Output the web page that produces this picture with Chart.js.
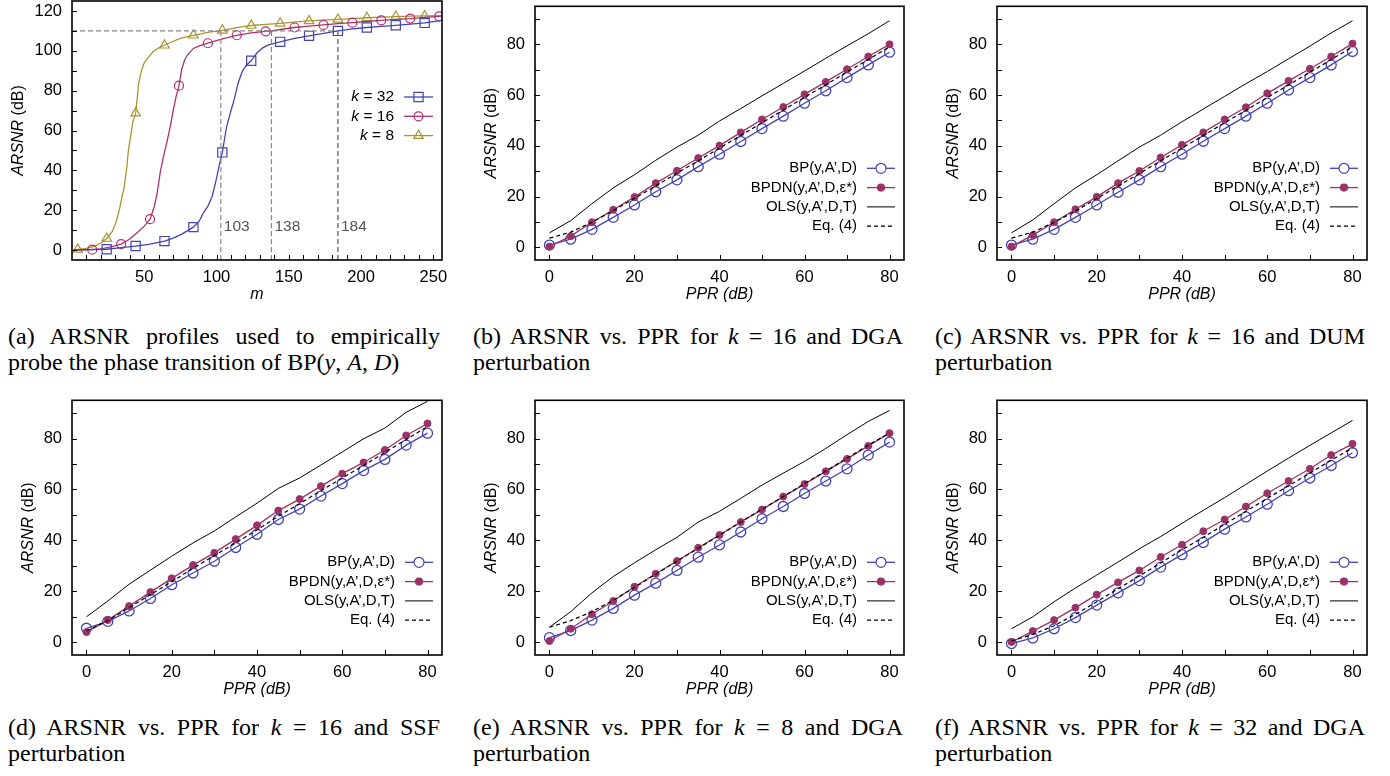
<!DOCTYPE html>
<html>
<head>
<meta charset="utf-8">
<script src="https://cdn.jsdelivr.net/npm/chart.js@4.4.0/dist/chart.umd.min.js"></script>
<style>
  body { margin: 0; background: #fff; width: 1390px; height: 776px; position: relative; overflow: hidden; }
  canvas { position: absolute; }
  .cap { position: absolute; font-family: "Liberation Serif", "Times New Roman", serif; font-size: 24px; line-height: 25.5px; color: #000; }
  .cap .j { text-align: justify; text-align-last: justify; }
</style>
</head>
<body>
<canvas id="pa" width="455" height="305" style="left:0;top:0"></canvas>
<canvas id="pb" width="460" height="305" style="left:460px;top:0"></canvas>
<canvas id="pc" width="470" height="305" style="left:920px;top:0"></canvas>
<canvas id="pd" width="455" height="305" style="left:0;top:394px"></canvas>
<canvas id="pe" width="460" height="305" style="left:460px;top:394px"></canvas>
<canvas id="pf" width="470" height="305" style="left:920px;top:394px"></canvas>

<div class="cap" style="left:8px;top:324px;width:432px">
  <div class="j">(a) ARSNR profiles used to empirically</div>
  <div>probe the phase transition of BP(<i>y</i>, <i>A</i>, <i>D</i>)</div>
</div>
<div class="cap" style="left:473px;top:324px;width:430px">
  <div class="j">(b) ARSNR vs. PPR for <i>k</i> = 16 and DGA</div>
  <div>perturbation</div>
</div>
<div class="cap" style="left:935px;top:324px;width:430px">
  <div class="j">(c) ARSNR vs. PPR for <i>k</i> = 16 and DUM</div>
  <div>perturbation</div>
</div>
<div class="cap" style="left:8px;top:715px;width:432px">
  <div class="j">(d) ARSNR vs. PPR for <i>k</i> = 16 and SSF</div>
  <div>perturbation</div>
</div>
<div class="cap" style="left:473px;top:715px;width:430px">
  <div class="j">(e) ARSNR vs. PPR for <i>k</i> = 8 and DGA</div>
  <div>perturbation</div>
</div>
<div class="cap" style="left:935px;top:715px;width:430px">
  <div class="j">(f) ARSNR vs. PPR for <i>k</i> = 32 and DGA</div>
  <div>perturbation</div>
</div>

<script>
// ---- panel (a): ARSNR vs m ----
const m8  = [1,4,10,16,20,24,28,31,33,35,36,38,39,41,42,44,45,46,48,50,52,56,60,64,70,76,84,94,104,114,124,134,144,154,164,174,184,194,204,214,224,234,244,256];
const k8  = [0.2,0.3,0.8,2,3.5,5.8,9.5,15,21,28,31,42,50,59,64,68.7,75,83,90,94,96,99.5,101.5,102.8,104.8,106.5,107.8,109.3,110.3,111.6,112.7,113.3,113.8,114.4,115,115.4,115.8,116.2,116.6,116.9,117.2,117.4,117.5,117.7];
const m16 = [1,8,14,20,26,30,34,40,45,50,54,57,59,61,63,66,68,70,72,74,76,78,80,84,88,94,104,114,124,134,138,144,154,164,174,184,194,204,214,224,234,244,254,256];
const k16 = [0,0.1,0.2,0.6,1.5,2.2,3,5.5,8.7,12,15.5,22,29,38.7,46,55.3,62,70,77,82.5,91,95.5,98,101.2,102.5,103.8,106,107.8,109,109.8,110,110.7,111.7,112.4,113,113.6,114.1,114.7,115.3,115.8,116.2,116.8,117.3,117.4];
const m32 = [1,10,24,34,44,54,64,70,76,84,88,91,94,97,100,102,104,107,110,112,115,118,121,124,128,132,136,144,154,164,174,184,194,204,214,224,234,244,256];
const k32 = [0,0.2,0.4,1.2,2,3,4.5,6,8,11.5,14.5,18.7,22,27,36,43,49,62,70,75,84,90,93,95,99,101.5,103,104.5,106.2,107.5,108.8,110,111,111.7,112.3,112.8,113.4,114,115.3];
const mk8  = [4,24,44,64,84,104,124,144,164,184,204,224,244];
const mk16 = [14,34,54,74,94,114,134,154,174,194,214,234,254];
const mk32 = [24,44,64,84,104,124,144,164,184,204,224,244];
const thrM = [103, 138, 184];
const thrV = 110;
const mTicks = [50, 100, 150, 200, 250];
const aTicks = [0, 20, 40, 60, 80, 100, 120];

// ---- panels (b)-(f): ARSNR vs PPR ----
const ppr = [0,5,10,15,20,25,30,35,40,45,50,55,60,65,70,75,80];
const pprTicks = [0, 20, 40, 60, 80];
const snrTicks = [0, 20, 40, 60, 80];

const bBP   = [0.9,3.2,7.1,11.8,16.7,21.9,26.6,31.8,36.7,41.7,46.8,51.7,56.8,61.7,66.9,71.9,76.9];
const bBPDN = [0.3,4.4,9.9,14.8,19.8,25.3,30.2,35.2,40.1,45.3,50.4,55.3,60.3,65.2,70.2,75.2,80.0];
const bOLS  = [5.7,10.5,17.2,23.4,28.6,34.3,39.5,44.2,49.8,54.7,59.7,64.6,69.5,74.5,79.4,84.2,89.3];
const bEq4  = [3.6,6.0,9.9,14.4,19.3,24.2,29.2,34.1,39.1,44.1,49.1,54.1,59.1,64.1,69.1,74.0,79.0];

const cBP   = [0.9,3.2,7.1,11.8,16.7,21.7,26.6,31.8,36.7,41.8,46.8,51.7,56.8,62.0,66.9,71.9,77.2];
const cBPDN = [0.3,4.8,9.9,15.0,19.9,25.3,30.1,35.4,40.4,45.3,50.4,55.2,60.7,65.6,70.4,75.2,80.3];
const cOLS  = [5.7,10.8,17.2,23.4,28.6,34.1,39.5,44.2,49.5,54.5,59.5,64.5,69.3,74.3,79.3,84.5,89.3];
const cEq4  = [3.6,6.0,9.8,14.3,19.2,24.2,29.1,34.1,39.1,44.1,49.1,54.0,59.0,64.0,69.0,74.0,79.0];

const dBP   = [5.5,8.2,12.3,17.2,22.6,27.2,31.8,37.2,42.4,48.2,52.3,57.4,62.3,67.4,71.8,77.4,82.1];
const dBPDN = [4.0,8.7,14.2,19.7,25.1,30.3,35.1,40.5,45.9,51.7,56.2,61.3,66.2,70.6,75.5,81.2,85.9];
const dOLS  = [10.0,16.2,22.8,28.3,33.8,39.0,43.7,49.2,54.6,60.4,64.5,69.6,74.7,79.9,84.1,90.3,94.6];
const dEq4  = [4.4,8.5,13.6,18.7,23.8,29.0,34.1,39.0,44.1,49.5,54.4,59.5,64.5,69.4,74.5,79.6,84.7];

const eBP   = [1.8,4.6,8.7,13.3,18.5,23.2,28.2,33.4,38.2,43.3,48.5,53.3,58.4,63.3,68.1,73.5,78.6];
const eBPDN = [0.5,5.3,11.0,16.2,21.8,26.9,31.9,37.1,42.1,47.2,52.1,57.2,62.1,67.1,72.0,77.1,82.1];
const eOLS  = [5.9,12.0,19.4,25.8,31.2,36.3,41.2,47.2,51.4,56.5,61.7,66.4,71.0,76.1,81.5,86.7,91.0];
const eEq4  = [5.9,8.5,12.0,16.5,21.5,26.7,31.8,36.9,42.0,47.2,52.3,57.2,62.3,67.2,72.3,77.4,82.2];

const fBP   = [-0.5,1.7,5.3,9.7,14.6,19.4,24.2,29.5,34.4,39.2,44.4,49.2,54.2,59.5,64.5,69.4,74.4];
const fBPDN = [0.1,4.4,8.7,13.6,18.7,23.5,28.2,33.5,38.3,43.6,48.2,53.3,58.5,63.3,68.1,73.5,77.9];
const fOLS  = [5.3,10.0,15.9,21.3,26.4,31.5,36.7,41.5,46.7,51.8,56.8,62.0,67.2,72.3,77.3,82.2,87.1];
const fEq4  = [0.5,3.1,6.5,11.0,15.9,21.0,26.0,31.2,36.3,41.2,46.3,51.4,56.5,61.4,66.4,71.5,76.4];

const FONT = '"Liberation Sans", Arial, sans-serif';
const BLUE = '#4444b4', PURPLE = '#993366', MAGENTA = '#b0306e', OLIVE = '#a8962e';
const NONE = 'rgba(0,0,0,0)';

const pts = (xs, ys) => xs.map((x, i) => ({ x: x, y: ys[i] }));

// per panel extras: titles, legend, minor ticks
const panels = {};

function richWidth(ctx, parts, size) {
  let w = 0;
  parts.forEach(p => { ctx.font = (p.i ? 'italic ' : '') + size + 'px ' + FONT; w += ctx.measureText(p.t).width; });
  return w;
}
function drawRich(ctx, parts, x, y, size) {
  parts.forEach(p => {
    ctx.font = (p.i ? 'italic ' : '') + size + 'px ' + FONT;
    ctx.fillText(p.t, x, y);
    x += ctx.measureText(p.t).width;
  });
}

const deco = {
  id: 'deco',
  afterDatasetsDraw(chart) {
    const cfg = panels[chart.canvas.id];
    const ctx = chart.ctx, a = chart.chartArea;
    const xs = chart.scales.x, ys = chart.scales.y;
    ctx.save();
    ctx.strokeStyle = '#000';
    ctx.lineWidth = 1;
    ctx.beginPath();
    cfg.xMinor.forEach(v => {
      const px = Math.round(xs.getPixelForValue(v)) + 0.5;
      ctx.moveTo(px, a.bottom); ctx.lineTo(px, a.bottom - 5);
    });
    cfg.yMinor.forEach(v => {
      const py = Math.round(ys.getPixelForValue(v)) + 0.5;
      ctx.moveTo(a.left, py); ctx.lineTo(a.left + 5, py);
    });
    ctx.stroke();
    ctx.lineWidth = 1.6;
    ctx.strokeRect(a.left, a.top, a.right - a.left, a.bottom - a.top);

    ctx.fillStyle = '#000';
    ctx.textBaseline = 'middle';
    // x title
    const xw = richWidth(ctx, cfg.xTitle, 16);
    drawRich(ctx, cfg.xTitle, (a.left + a.right) / 2 - xw / 2, a.bottom + 35, 16);
    // y title
    ctx.save();
    ctx.translate(a.left + cfg.yTitleOff, (a.top + a.bottom) / 2);
    ctx.rotate(-Math.PI / 2);
    const yw = richWidth(ctx, cfg.yTitle, 16);
    drawRich(ctx, cfg.yTitle, -yw / 2, 0, 16);
    ctx.restore();

    // threshold labels (panel a)
    if (cfg.thrLabels) {
      ctx.fillStyle = '#555';
      ctx.font = '15.5px ' + FONT;
      ctx.textAlign = 'left';
      cfg.thrLabels.forEach(m => ctx.fillText(String(m), xs.getPixelForValue(m) + 3, ys.getPixelForValue(11.5)));
    }

    // legend (gnuplot style: text, then sample)
    cfg.legend.forEach((it, i) => {
      const y = a.top + cfg.legTop + i * 19.3;
      ctx.fillStyle = '#000';
      const w = richWidth(ctx, it.text, cfg.legSize);
      drawRich(ctx, it.text, a.right - cfg.legTextR - w, y, cfg.legSize);
      const x1 = a.right - cfg.legTextR + 10, x2 = a.right - 9;
      ctx.strokeStyle = it.color;
      ctx.lineWidth = it.width || 1.3;
      ctx.setLineDash(it.dash || []);
      ctx.beginPath(); ctx.moveTo(x1, y); ctx.lineTo(x2, y); ctx.stroke();
      ctx.setLineDash([]);
      if (it.style) {
        ctx.fillStyle = it.fill;
        ctx.lineWidth = 1.2;
        Chart.helpers.drawPoint(ctx, { pointStyle: it.style, radius: it.r, borderWidth: 1.2, rotation: 0 }, (x1 + x2) / 2, y);
      }
    });
    ctx.restore();
  }
};

function makeChart(id, datasets, o) {
  return new Chart(document.getElementById(id), {
    type: 'line',
    data: { datasets: datasets },
    options: {
      responsive: false,
      animation: false,
      events: [],
      devicePixelRatio: 1,
      layout: { padding: { left: 0, right: o.padR, top: 1, bottom: 0 } },
      plugins: { legend: { display: false }, tooltip: { enabled: false } },
      scales: {
        x: {
          type: 'linear', min: o.xMin, max: o.xMax,
          afterBuildTicks: s => { s.ticks = o.xTicks.map(v => ({ value: v })); },
          afterFit: s => { s.height = o.xH; s.paddingLeft = 0; s.paddingRight = 0; },
          grid: { display: false, drawTicks: false },
          border: { display: false },
          ticks: { color: '#000', padding: 8, maxRotation: 0, autoSkip: false, font: { family: FONT, size: 16.5 } }
        },
        y: {
          type: 'linear', min: o.yMin, max: o.yMax,
          afterBuildTicks: s => { s.ticks = o.yTicks.map(v => ({ value: v })); },
          afterFit: s => { s.width = o.yW; s.paddingTop = 0; s.paddingBottom = 0; },
          grid: { display: false, drawTicks: false },
          border: { display: false },
          ticks: { color: '#000', padding: 10, font: { family: FONT, size: 16.5 } }
        }
      }
    },
    plugins: [deco]
  });
}

const range = (a, b, s) => { const r = []; for (let v = a; v <= b; v += s) r.push(v); return r; };
const yTitle = [{ t: 'ARSNR', i: true }, { t: ' (dB)' }];

// ---- panel (a) ----
panels.pa = {
  xMinor: range(10, 250, 10), yMinor: range(0, 120, 10),
  xTitle: [{ t: 'm', i: true }], yTitle: yTitle, yTitleOff: -53,
  thrLabels: thrM,
  legTop: 96, legTextR: 48, legSize: 15.5,
  legend: [
    { text: [{ t: 'k', i: true }, { t: ' = 32' }], color: BLUE, style: 'rect', r: 6.5, fill: NONE },
    { text: [{ t: 'k', i: true }, { t: ' = 16' }], color: MAGENTA, style: 'circle', r: 4.5, fill: NONE },
    { text: [{ t: 'k', i: true }, { t: ' = 8' }], color: OLIVE, style: 'triangle', r: 5.5, fill: NONE }
  ]
};
const markR = (list, r) => c => (c.raw && list.includes(c.raw.x)) ? r : 0;
const curve = (data, color, style, list, r) => ({
  data: data, borderColor: color, borderWidth: 1.3, tension: 0,
  pointStyle: style, pointRadius: markR(list, r), pointBorderColor: color,
  pointBackgroundColor: NONE, pointBorderWidth: 1.2
});
const guide = (data, color) => ({
  data: data, borderColor: color, borderWidth: 1.2, borderDash: [5, 3], pointRadius: 0, tension: 0
});
makeChart('pa', [
  guide([{ x: 0, y: thrV }, { x: thrM[2], y: thrV }], '#888'),
  guide([{ x: thrM[0], y: thrV }, { x: thrM[0], y: -5 }], '#888'),
  guide([{ x: thrM[1], y: thrV }, { x: thrM[1], y: -5 }], '#888'),
  guide([{ x: thrM[2], y: thrV }, { x: thrM[2], y: -5 }], '#555'),
  curve(pts(m32, k32), BLUE, 'rect', mk32, 6.5),
  curve(pts(m16, k16), MAGENTA, 'circle', mk16, 4.5),
  curve(pts(m8, k8), OLIVE, 'triangle', mk8, 5.5)
], { padR: 13, xMin: 0, xMax: 256, yMin: -5, yMax: 125, xTicks: mTicks, yTicks: aTicks, xH: 45, yW: 72 });

// ---- panels (b)-(f) ----
const pprLegend = [
  { text: [{ t: 'BP(y,A’,D)' }], color: BLUE, style: 'circle', r: 5, fill: '#fff' },
  { text: [{ t: 'BPDN(y,A’,D,ε*)' }], color: PURPLE, style: 'circle', r: 3.5, fill: PURPLE },
  { text: [{ t: 'OLS(y,A’,D,T)' }], color: '#000', width: 1 },
  { text: [{ t: 'Eq. (4)' }], color: '#000', width: 1.2, dash: [4, 3] }
];
function pprPanel(id, bp, bpdn, ols, eq, o) {
  panels[id] = {
    xMinor: range(0, 80, 10), yMinor: range(0, 90, 10),
    xTitle: [{ t: 'PPR (dB)', i: true }], yTitle: yTitle, yTitleOff: -43,
    legTop: 162, legTextR: 47, legSize: 15, legend: pprLegend
  };
  makeChart(id, [
    { data: pts(ppr, eq), borderColor: '#000', borderWidth: 1.2, borderDash: [4, 3], pointRadius: 0, tension: 0, order: 0 },
    { data: pts(ppr, ols), borderColor: '#000', borderWidth: 1, pointRadius: 0, tension: 0, order: 1 },
    { data: pts(ppr, bpdn), borderColor: PURPLE, borderWidth: 1.3, pointStyle: 'circle', pointRadius: 3.5,
      pointBackgroundColor: PURPLE, pointBorderColor: PURPLE, pointBorderWidth: 1, tension: 0, order: 2 },
    { data: pts(ppr, bp), borderColor: BLUE, borderWidth: 1.3, pointStyle: 'circle', pointRadius: 5,
      pointBackgroundColor: NONE, pointBorderColor: BLUE, pointBorderWidth: 1.3, tension: 0, order: 3 }
  ], Object.assign({ xMin: -3.4, xMax: 83.4, yMin: -5, yMax: 95, xTicks: pprTicks, yTicks: snrTicks, yW: 75 }, o));
}
pprPanel('pb', bBP, bBPDN, bOLS, bEq4, { padR: 16, xH: 45 });
pprPanel('pc', cBP, cBPDN, cOLS, cEq4, { padR: 23, xH: 45, yW: 77 });
pprPanel('pd', dBP, dBPDN, dOLS, dEq4, { padR: 13, xH: 44, yW: 72 });
pprPanel('pe', eBP, eBPDN, eOLS, eEq4, { padR: 16, xH: 44 });
pprPanel('pf', fBP, fBPDN, fOLS, fEq4, { padR: 23, xH: 44, yW: 77 });
</script>
</body>
</html>
